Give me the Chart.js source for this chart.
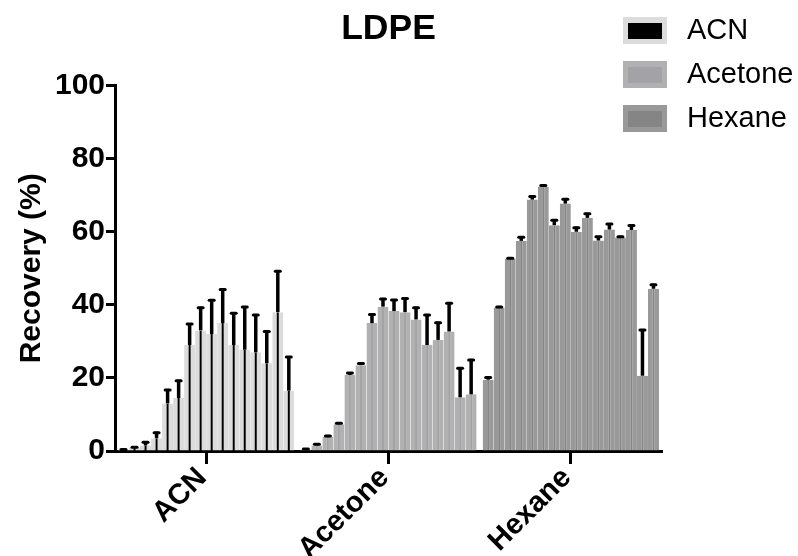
<!DOCTYPE html>
<html>
<head>
<meta charset="utf-8">
<script src="https://cdn.jsdelivr.net/npm/chart.js@4/dist/chart.umd.min.js"></script>
<style>
  html, body { margin: 0; padding: 0; background: #ffffff; }
  #wrap { width: 798px; height: 556px; }
</style>
</head>
<body>
<div id="wrap"><canvas id="chart" width="798" height="556"></canvas></div>
<script>
// Extraction solvents (x categories) and mean recovery (%) of the 16 analytes per solvent
const solvents = ['ACN', 'Acetone', 'Hexane'];

const acnRecovery     = [0.3, 0.8, 1.5, 3.5, 13.0, 14.5, 29.0, 33.0, 32.0, 35.0, 29.0, 27.7, 27.0, 24.0, 38.0, 16.5];
const acetoneRecovery = [0.4, 1.5, 3.8, 7.3, 20.8, 23.5, 35.0, 39.5, 38.3, 38.0, 36.0, 29.0, 30.4, 32.7, 14.7, 15.5];
const hexaneRecovery  = [19.5, 39.3, 52.6, 57.5, 68.8, 72.3, 61.8, 67.7, 60.0, 63.8, 57.6, 60.6, 58.4, 60.5, 20.6, 44.4];

// Standard deviations (upper error bars)
const acnSD     = [0.4, 0.5, 1.2, 1.8, 4.0, 5.0, 6.0, 6.5, 9.5, 9.5, 9.0, 12.0, 10.5, 9.0, 11.5, 9.5];
const acetoneSD = [0.4, 0.6, 0.6, 0.6, 0.8, 0.7, 2.6, 2.4, 3.3, 4.0, 3.5, 8.5, 5.0, 8.0, 8.2, 9.7];
const hexaneSD  = [0.9, 0.4, 0.4, 1.3, 1.1, 0.6, 1.6, 1.5, 1.4, 1.4, 1.3, 1.8, 0.5, 1.5, 12.8, 1.4];

const yTicks = { min: 0, max: 100, step: 20 };

// Bar styling per solvent: a wide light edge around a narrow darker core
const edgeColors = ['#dcdcdc', '#b1b1b1', '#999999'];
const coreColors = ['#000000', '#a3a3a7', '#858585'];

const FONT = "'Liberation Sans', Arial, Helvetica, sans-serif";
Chart.defaults.font.family = FONT;
Chart.defaults.color = '#000000';

const datasets = acnRecovery.map((_, i) => ({
  label: 'Analyte ' + (i + 1),
  data: [acnRecovery[i], acetoneRecovery[i], hexaneRecovery[i]],
  sd: [acnSD[i], acetoneSD[i], hexaneSD[i]],
  backgroundColor: coreColors,
  borderColor: edgeColors,
  borderWidth: { left: 4.5, right: 4.5, top: 0, bottom: 0 },
  barPercentage: 1.0,
  categoryPercentage: 0.967
}));

// Upper SD whiskers with a short rounded cap
const sdWhiskers = {
  id: 'sdWhiskers',
  afterDatasetsDraw(chart) {
    const ctx = chart.ctx;
    const y = chart.scales.y;
    chart.data.datasets.forEach((ds, i) => {
      const meta = chart.getDatasetMeta(i);
      meta.data.forEach((bar, j) => {
        const top = y.getPixelForValue(ds.data[j] + ds.sd[j]);
        ctx.save();
        ctx.strokeStyle = '#000000';
        ctx.lineWidth = 3.5;
        ctx.beginPath();
        ctx.moveTo(bar.x, bar.y);
        ctx.lineTo(bar.x, top);
        ctx.stroke();
        ctx.lineWidth = 3;
        ctx.lineCap = 'round';
        ctx.beginPath();
        ctx.moveTo(bar.x - 2.5, top + 1);
        ctx.lineTo(bar.x + 2.5, top + 1);
        ctx.stroke();
        ctx.restore();
      });
    });
  }
};

// Solvent key in the upper right corner
const solventKey = {
  id: 'solventKey',
  afterDraw(chart) {
    const ctx = chart.ctx;
    ctx.save();
    solvents.forEach((name, k) => {
      const top = 17 + k * 44;
      ctx.fillStyle = edgeColors[k];
      ctx.fillRect(623, top, 44, 27);
      ctx.fillStyle = coreColors[k];
      ctx.fillRect(628, top + 6, 34, 16);
      ctx.fillStyle = '#000000';
      ctx.font = '29px ' + FONT;
      ctx.textBaseline = 'middle';
      ctx.textAlign = 'left';
      ctx.fillText(name, 687, top + 14);
    });
    ctx.restore();
  }
};

new Chart(document.getElementById('chart'), {
  type: 'bar',
  data: { labels: solvents, datasets },
  plugins: [sdWhiskers, solventKey],
  options: {
    responsive: false,
    animation: false,
    layout: { padding: { left: 0, right: 136, top: 0, bottom: 0 } },
    plugins: {
      legend: { display: false },
      tooltip: { enabled: false },
      title: {
        display: true,
        text: 'LDPE',
        fullSize: false,
        color: '#000000',
        font: { size: 35.5, weight: 'bold' },
        padding: { top: 8, bottom: 35 }
      }
    },
    scales: {
      x: {
        offset: true,
        grid: { display: true, drawOnChartArea: false, offset: false, tickLength: 13, tickWidth: 3, tickColor: '#000000' },
        border: { display: true, width: 3, color: '#000000' },
        ticks: { color: '#000000', font: { size: 29, weight: 'bold' }, minRotation: 45, maxRotation: 45, autoSkip: false, padding: -3, labelOffset: -4 },
        afterFit(scale) { scale.height = 105; }
      },
      y: {
        min: yTicks.min,
        max: yTicks.max,
        grid: { display: true, drawOnChartArea: false, tickLength: 9, tickWidth: 3, tickColor: '#000000' },
        border: { display: true, width: 3, color: '#000000' },
        ticks: { stepSize: yTicks.step, color: '#000000', font: { size: 30, weight: 'bold' }, padding: 1 },
        title: { display: true, text: 'Recovery (%)', color: '#000000', font: { size: 30, weight: 'bold' }, padding: { top: 14, bottom: 0 } },
        afterFit(scale) { scale.width = 115; }
      }
    }
  }
});
</script>
</body>
</html>
